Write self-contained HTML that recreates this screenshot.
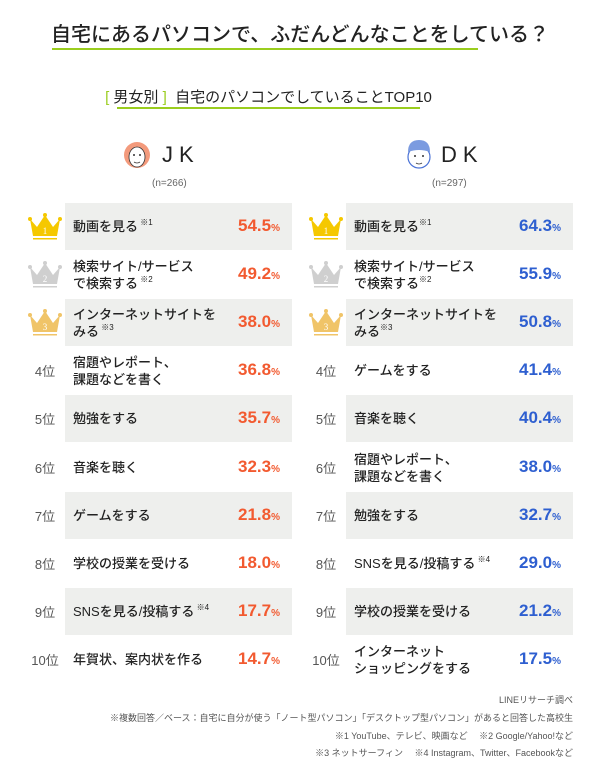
<!DOCTYPE html>
<html><head><meta charset="utf-8">
<style>
body{margin:0;width:600px;height:772px;background:#fff;font-family:"Liberation Sans","Noto Sans CJK JP",sans-serif;position:relative;overflow:hidden;color:#222}
.a{position:absolute}
.row{position:absolute;height:47px}
.lbl{position:absolute;font-size:13px;line-height:17px;color:#222;font-weight:500;white-space:nowrap}
.lbl sup{font-size:8px;vertical-align:baseline;position:relative;top:-6px;line-height:0}
.val{position:absolute;font-size:17px;font-weight:bold;text-align:right;width:100px}
.val small{font-size:10px}
.rk{position:absolute;font-size:13px;color:#555;width:40px;text-align:center}
.foot{position:absolute;right:27px;font-size:9px;color:#555;text-align:right;white-space:nowrap}
</style></head><body>
<div class="a" style="left:0;width:600px;top:18px;text-align:center;font-size:20px;font-weight:500;white-space:nowrap">自宅にあるパソコンで、ふだんどんなことをしている？</div>
<div class="a" style="left:52px;top:48px;width:426px;height:2px;background:#9acd1e"></div>
<div class="a" style="left:100px;top:86px;width:337px;text-align:center;font-size:15px;white-space:nowrap"><span style="color:#9acd1e">[</span> 男女別 <span style="color:#9acd1e">]</span>&nbsp; 自宅のパソコンでしていることTOP10</div>
<div class="a" style="left:117px;top:107px;width:303px;height:1.5px;background:#9acd1e"></div>

<svg class="a" style="left:122px;top:140px" width="30" height="30" viewBox="0 0 30 30"><circle cx="15" cy="15" r="13" fill="#f39a7c"/><ellipse cx="15" cy="17" rx="8" ry="10" fill="#fff" stroke="#333" stroke-width=".8"/><circle cx="12" cy="15" r="1" fill="#333"/><circle cx="18" cy="15" r="1" fill="#333"/><path d="M12 22q3 2 6 0" stroke="#333" fill="none" stroke-width=".8"/></svg>
<div class="a" style="left:162px;top:142px;font-size:22px;letter-spacing:6px">JK</div>
<div class="a" style="left:152px;top:178px;font-size:10px;color:#666">(n=266)</div>
<svg class="a" style="left:404px;top:138px" width="30" height="32" viewBox="0 0 30 32"><ellipse cx="15" cy="19" rx="11" ry="11" fill="#fff" stroke="#4a72d6" stroke-width="1.2"/><path d="M4 14q0-12 11-12q11 0 11 12q-11-4-22 0z" fill="#7b9be0"/><circle cx="11" cy="18" r="1" fill="#333"/><circle cx="19" cy="18" r="1" fill="#333"/><path d="M12 25q3 2 6 0" stroke="#333" fill="none" stroke-width=".8"/></svg>
<div class="a" style="left:441px;top:142px;font-size:22px;letter-spacing:6px">DK</div>
<div class="a" style="left:432px;top:178px;font-size:10px;color:#666">(n=297)</div>

<div id="chart"></div>

<div class="foot" style="top:693px">LINEリサーチ調べ</div>
<div class="foot" style="top:711px">※複数回答／ベース：自宅に自分が使う「ノート型パソコン」「デスクトップ型パソコン」があると回答した高校生</div>
<div class="foot" style="top:729px">※1 YouTube、テレビ、映画など　 ※2 Google/Yahoo!など</div>
<div class="foot" style="top:746px">※3 ネットサーフィン　 ※4 Instagram、Twitter、Facebookなど</div>

<script>
const jkLabels=["動画を見る<sup> ※1</sup>","検索サイト/サービス<br>で検索する<sup> ※2</sup>","インターネットサイトを<br>みる<sup> ※3</sup>","宿題やレポート、<br>課題などを書く","勉強をする","音楽を聴く","ゲームをする","学校の授業を受ける","SNSを見る/投稿する<sup> ※4</sup>","年賀状、案内状を作る"];
const jkValues=[54.5,49.2,38.0,36.8,35.7,32.3,21.8,18.0,17.7,14.7];
const dkLabels=["動画を見る<sup>※1</sup>","検索サイト/サービス<br>で検索する<sup>※2</sup>","インターネットサイトを<br>みる<sup>※3</sup>","ゲームをする","音楽を聴く","宿題やレポート、<br>課題などを書く","勉強をする","SNSを見る/投稿する<sup> ※4</sup>","学校の授業を受ける","インターネット<br>ショッピングをする"];
const dkValues=[64.3,55.9,50.8,41.4,40.4,38.0,32.7,29.0,21.2,17.5];
const rankLabels=["1","2","3","4位","5位","6位","7位","8位","9位","10位"];
const crownColors=["#f5c800","#cfcfcf","#f0c468"];
const chart=document.getElementById('chart');
const top0=203,pitch=48.1;
function crown(c,n){return `<svg width="36" height="30" viewBox="0 0 36 30"><path d="M3 8L10 16L18 4L26 16L33 8L30 25H6Z" fill="${c}"/><circle cx="3" cy="8" r="2" fill="${c}"/><circle cx="18" cy="4" r="2" fill="${c}"/><circle cx="33" cy="8" r="2" fill="${c}"/><rect x="6" y="27" width="24" height="1.5" fill="${c}"/><text x="18" y="23" font-size="9" fill="#fff" text-anchor="middle" font-family="Liberation Serif">${n}</text></svg>`;}
function draw(labels,values,boxX,color,side){
 labels.forEach((l,i)=>{
  const y=top0+i*pitch;
  const row=document.createElement('div');row.className='row';
  
  
  row.style.left=boxX+'px';row.style.top=y+'px';row.style.width='227px';
  if(i%2===0)row.style.background='#eeefed';
  chart.appendChild(row);
  const rk=document.createElement('div');rk.className='rk';
  
  
  rk.style.left=(boxX-40)+'px';
  if(i<3){rk.style.top=(y+8)+'px';rk.innerHTML=crown(crownColors[i],rankLabels[i]);}
  else{rk.style.top=(y+14)+'px';rk.textContent=rankLabels[i];}
  chart.appendChild(rk);
  const lb=document.createElement('div');lb.className='lbl';
  
  
  lb.innerHTML=labels[i];
  const two=labels[i].includes('<br>');
  lb.style.left=(boxX+8)+'px';lb.style.top=(y+(two?7:15))+'px';
  chart.appendChild(lb);
  const v=document.createElement('div');v.className='val';
  
  
  v.innerHTML=values[i].toFixed(1)+'<small>%</small>';
  v.style.color=color;v.style.left=(boxX+115)+'px';v.style.top=(y+13)+'px';
  chart.appendChild(v);
 });
}
draw(jkLabels,jkValues,65,'#f25a30','jk');
draw(dkLabels,dkValues,346,'#2e5fd0','dk');
</script>
</body></html>
